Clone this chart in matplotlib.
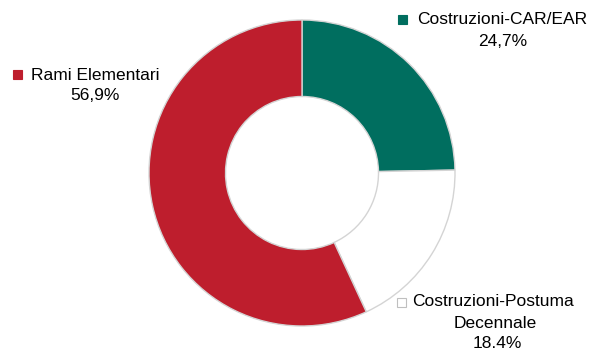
import matplotlib
matplotlib.use("Agg")
import matplotlib.pyplot as plt
from matplotlib.patches import Rectangle

# portfolio split, clockwise from 12 o'clock
labels = ["Costruzioni-CAR/EAR", "Costruzioni-Postuma\nDecennale", "Rami Elementari"]
shares = [24.7, 18.4, 56.9]
share_text = ["24,7%", "18.4%", "56,9%"]
colors = ["#006e5f", "#ffffff", "#be1e2d"]

W, H = 591, 350
fig = plt.figure(figsize=(W / 100, H / 100), dpi=100)
ax = fig.add_axes([0, 0, 1, 1])

cx, cy, r = 302, 173, 153
ax.pie(shares, colors=colors, startangle=90, counterclock=False,
       center=(cx, H - cy), radius=r,
       wedgeprops=dict(width=r * 0.5, edgecolor="#d4d4d4", linewidth=1.0))
# pie() resets the limits, so put the pixel frame back afterwards
ax.set_xlim(0, W)
ax.set_ylim(0, H)
ax.axis("off")


def Y(y):
    return H - y


fs = 12.5
font = "Liberation Sans"


def key(x, y, fc, ec):
    ax.add_patch(Rectangle((x - 4.5, Y(y) - 4.5), 9, 9, facecolor=fc,
                           edgecolor=ec, linewidth=0.8))


# Costruzioni-CAR/EAR
key(402, 19, colors[0], colors[0])
ax.text(417, Y(20), labels[0], fontsize=fs, family=font, va="center", ha="left")
ax.text(503, Y(42), share_text[0], fontsize=fs, family=font, va="center", ha="center")

# Rami Elementari
key(17, 74, colors[2], colors[2])
ax.text(31, Y(75), labels[2], fontsize=fs, family=font, va="center", ha="left")
ax.text(95, Y(96), share_text[2], fontsize=fs, family=font, va="center", ha="center")

# Costruzioni-Postuma Decennale
key(401, 302, "#ffffff", "#bfbfbf")
line1, line2 = labels[1].split("\n")
ax.text(412, Y(302), line1, fontsize=fs, family=font, va="center", ha="left")
ax.text(495, Y(323), line2, fontsize=fs, family=font, va="center", ha="center")
ax.text(497, Y(343), share_text[1], fontsize=fs, family=font, va="center", ha="center")

fig.savefig("out.png", dpi=100)
